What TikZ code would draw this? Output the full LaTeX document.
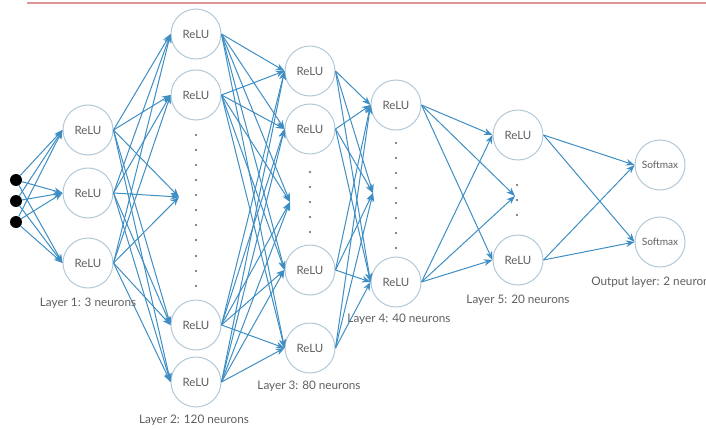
\documentclass[tikz,border=0pt]{standalone}
\usepackage{fontspec}
\setmainfont{Lato}
\usetikzlibrary{arrows.meta}
\definecolor{linkblue}{RGB}{62,142,196}
\definecolor{ringgrey}{RGB}{178,200,214}
\definecolor{textgrey}{RGB}{95,95,95}
\definecolor{rulered}{RGB}{222,150,150}

\begin{document}
\begin{tikzpicture}[x=0.75pt,y=0.75pt,yscale=-1,xscale=1,
    neuron/.style={circle, draw=ringgrey, line width=0.75pt, minimum size=37.5pt, inner sep=0pt, text=textgrey, font=\fontsize{8.6}{10}\selectfont},
    outneuron/.style={neuron, font=\fontsize{7.6}{9}\selectfont},
    inputdot/.style={circle, fill=black, minimum size=9pt, inner sep=0pt},
    link/.style={draw=linkblue, line width=0.75pt, -{Stealth[length=6.5pt,width=5pt]}},
    layerlabel/.style={text=textgrey, font=\fontsize{8.8}{10}\selectfont, inner sep=0.75pt}]
    %set diagram left start at 0, and has height of 428
    \useasboundingbox (0,0) rectangle (706,428);

    %Straight Lines [id:top rule]
    \draw [rulered, line width=1pt] (27,3) -- (706,3) ;

    % Input dots
    \node [inputdot] (in1) at (16,180) {};
    \node [inputdot] (in2) at (16,201) {};
    \node [inputdot] (in3) at (16,222) {};

    % Layer 1
    \node [neuron] (l1a) at (88,130) {ReLU};
    \node [neuron] (l1b) at (88,193) {ReLU};
    \node [neuron] (l1c) at (88,263) {ReLU};
    % Layer 2
    \node [neuron] (l2a) at (196,34) {ReLU};
    \node [neuron] (l2b) at (196,95) {ReLU};
    \coordinate (l2m) at (179,197);
    \node [neuron] (l2c) at (196,325) {ReLU};
    \node [neuron] (l2d) at (196,382) {ReLU};
    % Layer 3
    \node [neuron] (l3a) at (310,71) {ReLU};
    \node [neuron] (l3b) at (310,129) {ReLU};
    \coordinate (l3m) at (290,202);
    \node [neuron] (l3c) at (310,270) {ReLU};
    \node [neuron] (l3d) at (310,348) {ReLU};
    % Layer 4
    \node [neuron] (l4a) at (396,105) {ReLU};
    \coordinate (l4m) at (373,193);
    \node [neuron] (l4b) at (396,282) {ReLU};
    % Layer 5
    \node [neuron] (l5a) at (518,135) {ReLU};
    \coordinate (l5m) at (515,196);
    \node [neuron] (l5b) at (518,260) {ReLU};
    % Output layer
    \node [outneuron] (o1) at (660,165) {Softmax};
    \node [outneuron] (o2) at (660,242) {Softmax};

    % Dots between neurons
    \fill [textgrey] (196,135) circle (0.9pt) (196,150) circle (0.9pt) (196,165) circle (0.9pt) (196,180) circle (0.9pt) (196,195) circle (0.9pt) (196,210) circle (0.9pt) (196,225) circle (0.9pt) (196,240) circle (0.9pt) (196,256) circle (0.9pt) (196,271) circle (0.9pt) (196,286) circle (0.9pt) ;
    \fill [textgrey] (310,172) circle (0.9pt) (310,187) circle (0.9pt) (310,202) circle (0.9pt) (310,217) circle (0.9pt) (310,232) circle (0.9pt) ;
    \fill [textgrey] (396,143) circle (0.9pt) (396,158) circle (0.9pt) (396,173) circle (0.9pt) (396,188) circle (0.9pt) (396,203) circle (0.9pt) (396,218) circle (0.9pt) (396,233) circle (0.9pt) (396,248) circle (0.9pt) ;
    \fill [textgrey] (517,185) circle (0.9pt) (517,200) circle (0.9pt) (517,215) circle (0.9pt) ;

    %Straight Lines [input -> layer 1]
    \draw [link] (in1) -- (l1a.west) ;
    \draw [link] (in1) -- (l1b.west) ;
    \draw [link] (in1) -- (l1c.west) ;
    \draw [link] (in2) -- (l1a.west) ;
    \draw [link] (in2) -- (l1b.west) ;
    \draw [link] (in2) -- (l1c.west) ;
    \draw [link] (in3) -- (l1a.west) ;
    \draw [link] (in3) -- (l1b.west) ;
    \draw [link] (in3) -- (l1c.west) ;
    %Straight Lines [layer 1 -> layer 2]
    \draw [link] (l1a.east) -- (l2a.west) ;
    \draw [link] (l1a.east) -- (l2b.west) ;
    \draw [link] (l1a.east) -- (l2m) ;
    \draw [link] (l1a.east) -- (l2c.west) ;
    \draw [link] (l1a.east) -- (l2d.west) ;
    \draw [link] (l1b.east) -- (l2a.west) ;
    \draw [link] (l1b.east) -- (l2b.west) ;
    \draw [link] (l1b.east) -- (l2m) ;
    \draw [link] (l1b.east) -- (l2c.west) ;
    \draw [link] (l1b.east) -- (l2d.west) ;
    \draw [link] (l1c.east) -- (l2a.west) ;
    \draw [link] (l1c.east) -- (l2b.west) ;
    \draw [link] (l1c.east) -- (l2m) ;
    \draw [link] (l1c.east) -- (l2c.west) ;
    \draw [link] (l1c.east) -- (l2d.west) ;
    %Straight Lines [layer 2 -> layer 3]
    \draw [link] (l2a.east) -- (l3a.west) ;
    \draw [link] (l2a.east) -- (l3b.west) ;
    \draw [link] (l2a.east) -- (l3m) ;
    \draw [link] (l2a.east) -- (l3c.west) ;
    \draw [link] (l2a.east) -- (l3d.west) ;
    \draw [link] (l2b.east) -- (l3a.west) ;
    \draw [link] (l2b.east) -- (l3b.west) ;
    \draw [link] (l2b.east) -- (l3m) ;
    \draw [link] (l2b.east) -- (l3c.west) ;
    \draw [link] (l2b.east) -- (l3d.west) ;
    \draw [link] (l2c.east) -- (l3a.west) ;
    \draw [link] (l2c.east) -- (l3b.west) ;
    \draw [link] (l2c.east) -- (l3m) ;
    \draw [link] (l2c.east) -- (l3c.west) ;
    \draw [link] (l2c.east) -- (l3d.west) ;
    \draw [link] (l2d.east) -- (l3a.west) ;
    \draw [link] (l2d.east) -- (l3b.west) ;
    \draw [link] (l2d.east) -- (l3m) ;
    \draw [link] (l2d.east) -- (l3c.west) ;
    \draw [link] (l2d.east) -- (l3d.west) ;
    %Straight Lines [layer 3 -> layer 4]
    \draw [link] (l3a.east) -- (l4a.west) ;
    \draw [link] (l3a.east) -- (l4m) ;
    \draw [link] (l3a.east) -- (l4b.west) ;
    \draw [link] (l3b.east) -- (l4a.west) ;
    \draw [link] (l3b.east) -- (l4m) ;
    \draw [link] (l3b.east) -- (l4b.west) ;
    \draw [link] (l3c.east) -- (l4a.west) ;
    \draw [link] (l3c.east) -- (l4m) ;
    \draw [link] (l3c.east) -- (l4b.west) ;
    \draw [link] (l3d.east) -- (l4a.west) ;
    \draw [link] (l3d.east) -- (l4m) ;
    \draw [link] (l3d.east) -- (l4b.west) ;
    %Straight Lines [layer 4 -> layer 5]
    \draw [link] (l4a.east) -- (l5a.west) ;
    \draw [link] (l4a.east) -- (l5m) ;
    \draw [link] (l4a.east) -- (l5b.west) ;
    \draw [link] (l4b.east) -- (l5a.west) ;
    \draw [link] (l4b.east) -- (l5m) ;
    \draw [link] (l4b.east) -- (l5b.west) ;
    %Straight Lines [layer 5 -> output]
    \draw [link] (l5a.east) -- (o1.west) ;
    \draw [link] (l5a.east) -- (o2.west) ;
    \draw [link] (l5b.east) -- (o1.west) ;
    \draw [link] (l5b.east) -- (o2.west) ;

    % Text Node
    \node [layerlabel] (lab1) at (88,303) {Layer 1: 3 neurons};
    % Text Node
    \node [layerlabel] (lab2) at (194,420) {Layer 2: 120 neurons};
    % Text Node
    \node [layerlabel] (lab3) at (309,386) {Layer 3: 80 neurons};
    % Text Node
    \node [layerlabel] (lab4) at (399,319) {Layer 4: 40 neurons};
    % Text Node
    \node [layerlabel] (lab5) at (518,300) {Layer 5: 20 neurons};
    % Text Node
    \node [layerlabel, anchor=west] (lab6) at (590,282) {Output layer: 2 neurons};
\end{tikzpicture}
\end{document}
